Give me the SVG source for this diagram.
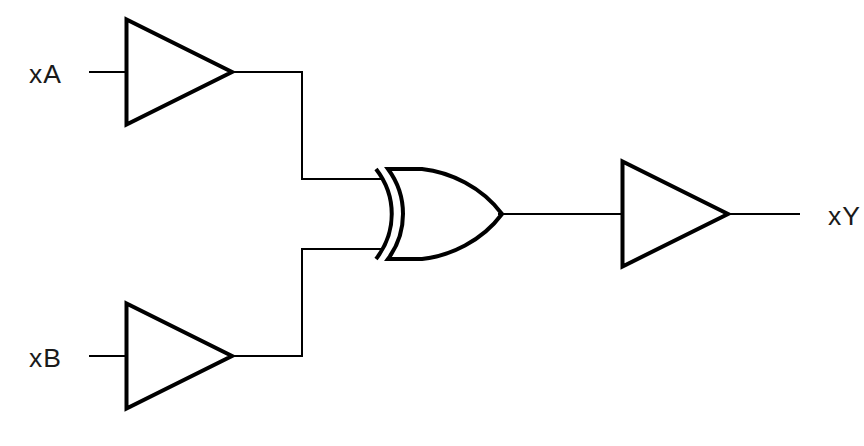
<svg xmlns="http://www.w3.org/2000/svg" width="864" height="446" viewBox="0 0 864 446">
<style>
.g{fill:none;stroke:#000;stroke-width:4;stroke-linejoin:miter}
.w{fill:none;stroke:#000;stroke-width:2}
text{font-family:"Liberation Sans",Arial,sans-serif;font-size:26.5px;letter-spacing:1px;fill:#1a1a1a}
</style>
<rect width="864" height="446" fill="#fff"/>
<g id="connectors">
<path class="w" d="M89 72H126"/>
<path class="w" d="M230 72H302V179H384"/>
<path class="w" d="M89 356H126"/>
<path class="w" d="M230 356H302V249H384"/>
<path class="w" d="M498 214H622"/>
<path class="w" d="M726 214H800"/>
</g>
<g id="bufA"><path class="g" d="M126.500 19.500V124.500L232 72Z"/></g>
<g id="bufB"><path class="g" d="M126.500 303.500V408.500L232 356Z"/></g>
<g id="xor"><path class="g" d="M388 169H422C450 172 482 187 502 214C482 241 450 256 422 259H388C408 232 408 196 388 169Z"/><path class="g" d="M376 169C397 196 397 232 376 259"/></g>
<g id="bufY"><path class="g" d="M622.500 161.500V266.500L728 214Z"/></g>
<g id="xA"><text x="29" y="82.5">xA</text></g>
<g id="xB"><text x="29" y="366.5">xB</text></g>
<g id="xY"><text x="828" y="224.5">xY</text></g>
</svg>
